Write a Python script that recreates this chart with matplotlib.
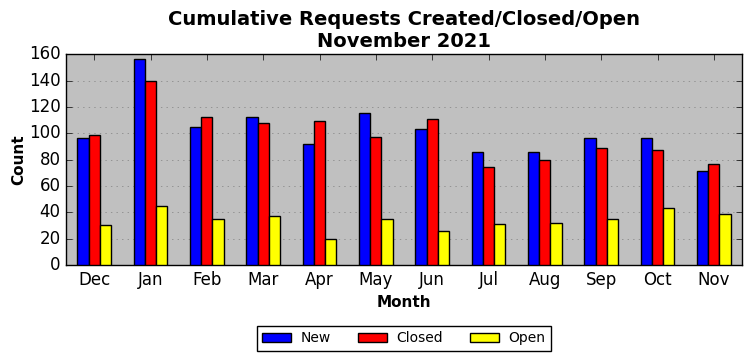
import numpy as np
import matplotlib
matplotlib.use("Agg")
import matplotlib.pyplot as plt

months = ["Dec", "Jan", "Feb", "Mar", "Apr", "May", "Jun", "Jul", "Aug", "Sep", "Oct", "Nov"]
new_counts = [96, 156, 105, 112, 92, 115, 103, 86, 86, 96, 96, 71]
closed_counts = [99, 140, 112, 108, 109, 97, 111, 74, 80, 89, 87, 77]
open_counts = [30, 45, 35, 37, 20, 35, 26, 31, 32, 35, 43, 39]

plt.style.use("classic")
fig = plt.figure(figsize=(7.52, 3.61), dpi=100, facecolor="white")
ax = fig.add_axes([0.0878, 0.266, 0.8989, 0.584])
ax.set_facecolor("#c0c0c0")

x = np.arange(len(months))
width = 0.2
ax.bar(x - width, new_counts, width, color="blue", edgecolor="black", label="New", zorder=3)
ax.bar(x, closed_counts, width, color="red", edgecolor="black", label="Closed", zorder=3)
ax.bar(x + width, open_counts, width, color="yellow", edgecolor="black", label="Open", zorder=3)

ax.set_xlim(-0.5, len(months) - 0.5)
ax.set_ylim(0, 160)
ax.set_xticks(x)
ax.set_xticklabels(months, fontsize=12)
ax.set_yticks(np.arange(0, 161, 20))
ax.tick_params(axis="y", labelsize=12)
ax.yaxis.grid(True, linestyle=":", color="gray", zorder=0)
ax.xaxis.grid(False)
ax.set_axisbelow(True)

ax.set_title("Cumulative Requests Created/Closed/Open\nNovember 2021", fontsize=14,
             fontweight="bold", linespacing=1.2, pad=5)
ax.set_xlabel("Month", fontsize=11, fontweight="bold")
ax.set_ylabel("Count", fontsize=11, fontweight="bold", labelpad=2)

fig.legend(loc="center", bbox_to_anchor=(0.537, 0.063), ncol=3, fontsize=10,
           fancybox=False, frameon=True, handlelength=2.1, handletextpad=0.7,
           columnspacing=1.9)

fig.savefig("out.png", dpi=100, facecolor="white")
